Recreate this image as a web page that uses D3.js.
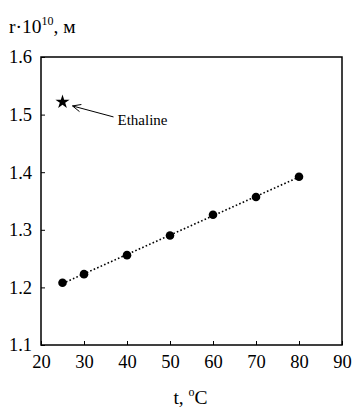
<!DOCTYPE html>
<html>
<head>
<meta charset="utf-8">
<script src="https://cdn.jsdelivr.net/npm/d3@7"></script>
<style>
  body { margin: 0; background: #fff; }
  text { font-family: "Liberation Serif", "Times New Roman", serif; fill: #000; }
</style>
</head>
<body>
<div id="chart"></div>
<script>
// data
const temps = [25, 30, 40, 50, 60, 70, 80];
const radius = [1.208, 1.223, 1.256, 1.290, 1.326, 1.357, 1.392];
const ethaline = [{ t: 25, r: 1.522 }];
const xTicks = [20, 30, 40, 50, 60, 70, 80, 90];
const yTicks = [1.1, 1.2, 1.3, 1.4, 1.5, 1.6];

const width = 354, height = 408;
const margin = { top: 57, right: 12, bottom: 63, left: 41 };

const svg = d3.select("#chart").append("svg")
    .attr("width", width)
    .attr("height", height);

const x = d3.scaleLinear().domain([20, 90]).range([margin.left, width - margin.right]);
const y = d3.scaleLinear().domain([1.1, 1.6]).range([height - margin.bottom, margin.top]);

// ticks point inwards
const xAxis = svg.append("g")
    .attr("transform", `translate(0,${y(1.1)})`)
    .call(d3.axisBottom(x).tickValues(xTicks).tickSize(-4).tickPadding(12).tickFormat(d3.format("d")));
const yAxis = svg.append("g")
    .attr("transform", `translate(${x(20)},0)`)
    .call(d3.axisLeft(y).tickValues(yTicks).tickSize(-4).tickPadding(9).tickFormat(d3.format(".1f")));

[xAxis, yAxis].forEach(g => {
    g.select(".domain").remove();
    g.selectAll(".tick line").attr("stroke", "#000").attr("stroke-width", 1);
    g.selectAll(".tick text").attr("font-size", 18.5).attr("font-family", "Liberation Serif");
});
xAxis.selectAll(".tick text").attr("dy", "0.62em");

// frame
svg.append("rect")
    .attr("x", x(20)).attr("y", y(1.6))
    .attr("width", x(90) - x(20)).attr("height", y(1.1) - y(1.6))
    .attr("fill", "none").attr("stroke", "#000").attr("stroke-width", 1.5);

// least squares trend line through the points
const pts = temps.map((t, i) => ({ t, r: radius[i] }));
const mt = d3.mean(temps), mr = d3.mean(radius);
const slope = d3.sum(pts, d => (d.t - mt) * (d.r - mr)) / d3.sum(pts, d => (d.t - mt) ** 2);
const icpt = mr - slope * mt;
const ends = [d3.min(temps), d3.max(temps)];

svg.append("path")
    .datum(ends)
    .attr("d", d3.line().x(d => x(d)).y(d => y(icpt + slope * d)))
    .attr("fill", "none")
    .attr("stroke", "#000")
    .attr("stroke-width", 1.6)
    .attr("stroke-dasharray", "1.6,2.2");

svg.selectAll(".pt")
    .data(pts)
    .enter()
    .append("circle")
    .attr("class", "pt")
    .attr("cx", d => x(d.t))
    .attr("cy", d => y(d.r))
    .attr("r", 4.3)
    .attr("fill", "#000");

svg.selectAll(".star")
    .data(ethaline)
    .enter()
    .append("path")
    .attr("class", "star")
    .attr("transform", d => `translate(${x(d.t)},${y(d.r)})`)
    .attr("d", d3.symbol().type(d3.symbolStar).size(62))
    .attr("fill", "#000");

// annotation arrow
const sx = x(ethaline[0].t), sy = y(ethaline[0].r);
const tipX = sx + 10, tipY = sy + 4, tailX = sx + 51, tailY = sy + 15;
svg.append("line")
    .attr("x1", tipX).attr("y1", tipY).attr("x2", tailX).attr("y2", tailY)
    .attr("stroke", "#000").attr("stroke-width", 1);
const ang = Math.atan2(tailY - tipY, tailX - tipX);
const head = [[-0.42, 9], [0.42, 9]].map(([a, l]) => [tipX + l * Math.cos(ang + a), tipY + l * Math.sin(ang + a)]);
svg.append("path")
    .attr("d", `M${head[0][0]},${head[0][1]}L${tipX},${tipY}L${head[1][0]},${head[1][1]}`)
    .attr("fill", "none").attr("stroke", "#000").attr("stroke-width", 1);
svg.append("text")
    .attr("x", tailX + 4).attr("y", tailY + 8)
    .attr("font-size", 15)
    .text("Ethaline");

// axis titles
const yt = svg.append("text").attr("x", 9).attr("y", 33).attr("font-size", 19.5);
yt.append("tspan").text("r·10");
yt.append("tspan").attr("dy", -8).attr("font-size", 12).text("10");
yt.append("tspan").attr("dy", 8).text(", м");

const xt = svg.append("text").attr("x", x(55) - 1).attr("y", 404).attr("font-size", 19.5).attr("text-anchor", "middle");
xt.append("tspan").text("t, ");
xt.append("tspan").attr("dy", -8).attr("font-size", 12).text("o");
xt.append("tspan").attr("dy", 8).text("C");
</script>
</body>
</html>
